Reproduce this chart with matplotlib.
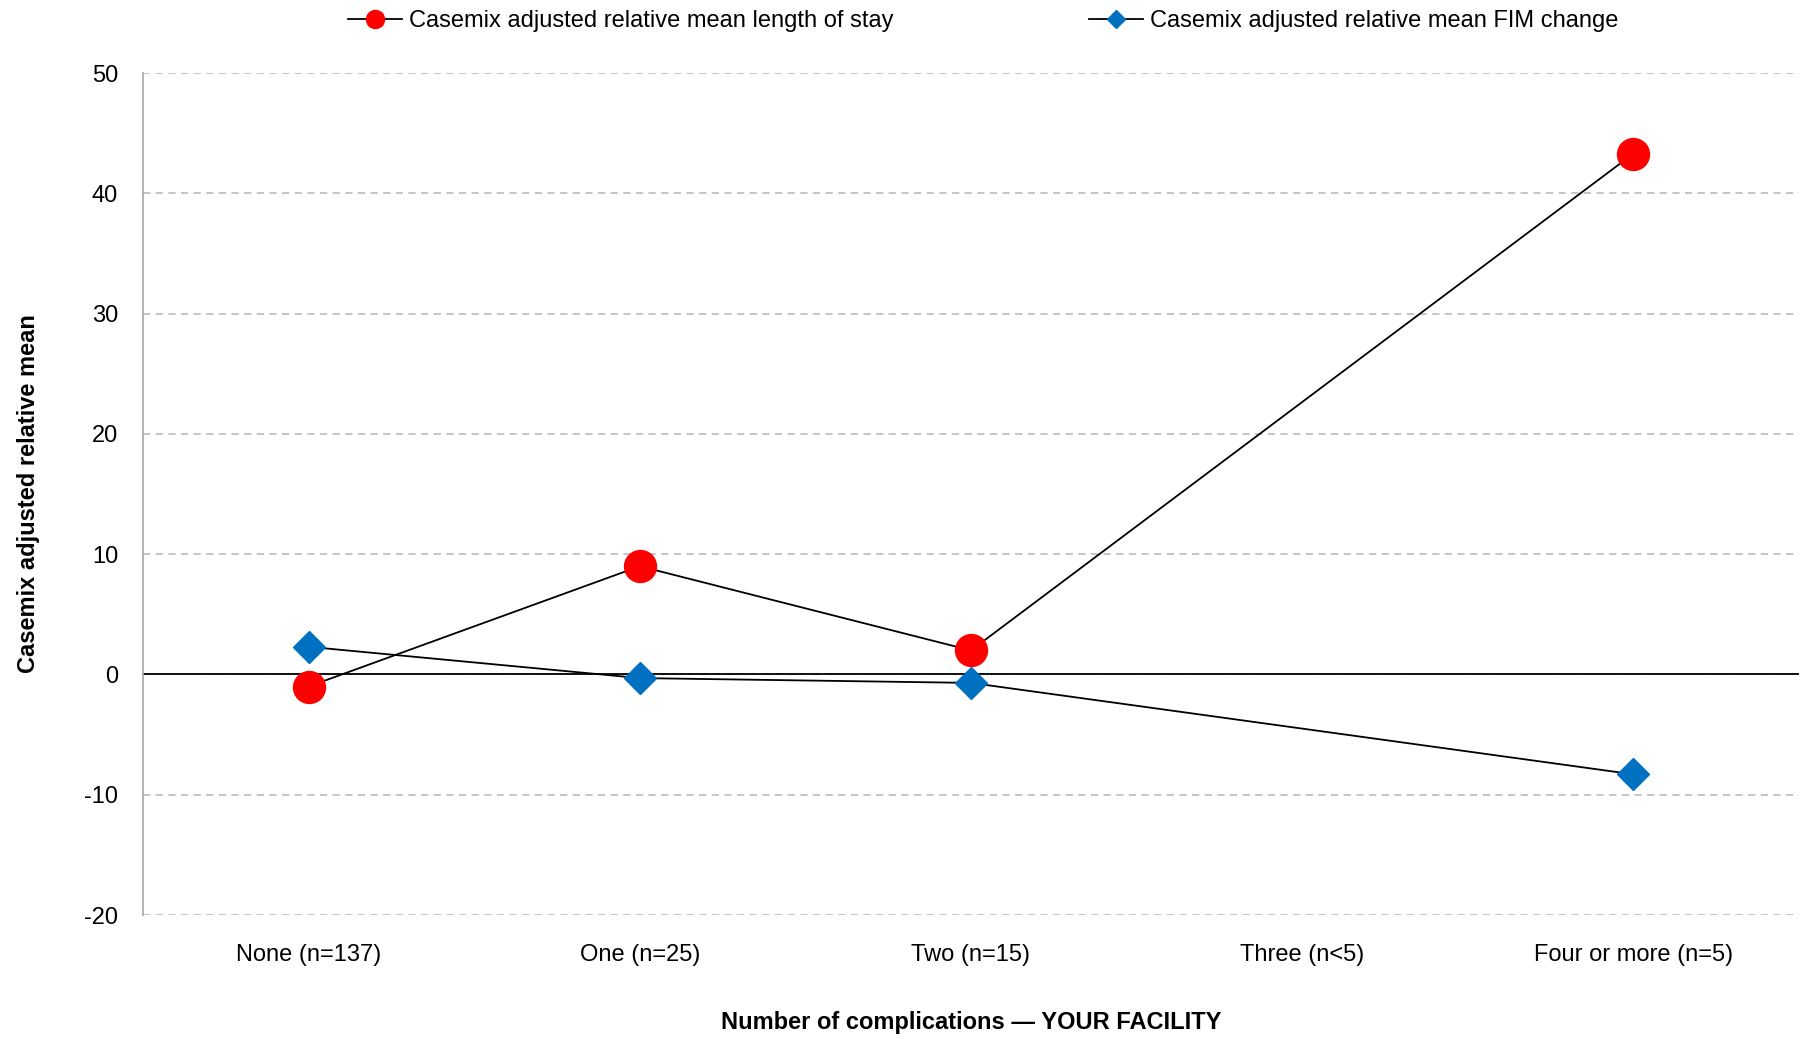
import numpy as np
import matplotlib
matplotlib.use("Agg")
import matplotlib.pyplot as plt
from matplotlib import font_manager
from matplotlib.lines import Line2D

# Data
categories = ["None (n=137)", "One (n=25)", "Two (n=15)", "Three (n<5)", "Four or more (n=5)"]
length_of_stay = [-1.0, 9.0, 2.0, np.nan, 43.3]
fim_change = [2.3, -0.3, -0.7, np.nan, -8.3]
y_ticks = [-20, -10, 0, 10, 20, 30, 40, 50]

available = {f.name for f in font_manager.fontManager.ttflist}
family = "Liberation Sans Narrow" if "Liberation Sans Narrow" in available else "Liberation Sans"
plt.rcParams["font.family"] = [family, "DejaVu Sans"]
plt.rcParams["axes.unicode_minus"] = False

fig = plt.figure(figsize=(18.08, 10.39), dpi=100)
ax = fig.add_axes([0.0791, 0.1193, 0.9159, 0.8104])

x = np.arange(len(categories))


def plot_series(values, **kw):
    v = np.asarray(values, dtype=float)
    m = ~np.isnan(v)
    return ax.plot(x[m], v[m], color="black", lw=1.3, zorder=3, **kw)[0]


plot_series(length_of_stay, marker="o", markersize=23, markerfacecolor="#ff0000",
            markeredgecolor="#ff0000")
plot_series(fim_change, marker="D", markersize=16.5, markerfacecolor="#0070c0",
            markeredgecolor="#0070c0")

ax.set_xlim(-0.5, len(categories) - 0.5)
ax.set_ylim(-20, 50)
ax.set_yticks(y_ticks)
ax.set_xticks(x)
ax.set_xticklabels(categories)
ax.tick_params(axis="both", length=0, labelsize=17)
ax.tick_params(axis="x", pad=21)
ax.tick_params(axis="y", pad=18)

ax.yaxis.grid(True, linestyle=(0, (4, 3)), color="#c0c0c0", lw=1.3)
ax.set_axisbelow(True)
ax.axhline(0, color="black", lw=1.3, zorder=2)

for s in ["top", "right", "bottom"]:
    ax.spines[s].set_visible(False)
ax.spines["left"].set_color("#a6a6a6")
ax.spines["left"].set_linewidth(1.2)

ax.set_ylabel("Casemix adjusted relative mean", fontsize=17, fontweight="bold", labelpad=32)
ax.set_xlabel("Number of complications \u2014 YOUR FACILITY", fontsize=17,
              fontweight="bold", labelpad=32)

h1 = Line2D([], [], color="black", lw=1.3, marker="o", markersize=13,
            markerfacecolor="#ff0000", markeredgecolor="#ff0000")
h2 = Line2D([], [], color="black", lw=1.3, marker="D", markersize=9.5,
            markerfacecolor="#0070c0", markeredgecolor="#0070c0")
fig.legend([h1], ["Casemix adjusted relative mean length of stay"], loc="center left",
           bbox_to_anchor=(0.187, 0.980), frameon=False, fontsize=17,
           handlelength=2.3, handletextpad=0.3, borderaxespad=0)
fig.legend([h2], ["Casemix adjusted relative mean FIM change"], loc="center left",
           bbox_to_anchor=(0.597, 0.980), frameon=False, fontsize=17,
           handlelength=2.3, handletextpad=0.3, borderaxespad=0)

fig.savefig("out.png", dpi=100)
